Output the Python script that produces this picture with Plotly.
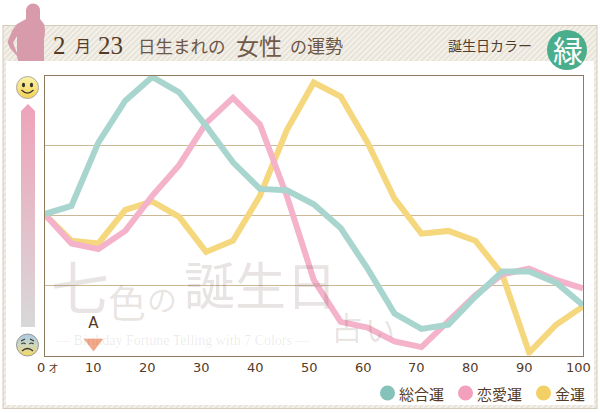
import base64
import plotly.graph_objects as go

# data
ages = list(range(0, 101, 5))
sougou = [50.5, 53.4, 76, 91, 99.5, 94, 82, 69, 59.5, 59, 54, 45.5, 31, 15, 9.5, 11, 21, 30, 30, 26, 18]
renai = [50.5, 40, 38, 44.5, 57, 68, 83, 92, 82.5, 57, 27, 12, 10, 5, 3, 12, 21.5, 29, 31, 27, 24]
kinun = [50.5, 41, 40, 52, 55, 49.5, 37, 41, 57, 80.5, 97.5, 92.5, 76, 56, 43.5, 44.5, 41, 29, 1, 11, 17.5]
tick_ages = list(range(0, 101, 10))
tick_labels = ["0<span style='font-size:10px'> オ</span>"] + [str(a) for a in tick_ages[1:]]
grid_levels = [25, 50, 75]
marker_age = [9.1]
marker_level = [4.5]
marker_label = ["A"]

W, H = 600, 413
TEXT = "#553a26"
SERIF = "'Liberation Serif','Noto Sans CJK JP',serif"
SANS = "'DejaVu Sans','Noto Sans CJK JP',sans-serif"
CJK = "'Noto Sans CJK JP',sans-serif"

# frame, hatch, gradient arrow, silhouette and faces as a background picture
svg = f'''<svg xmlns="http://www.w3.org/2000/svg" width="{W}" height="{H}" viewBox="0 0 {W} {H}">
<defs>
<pattern id="h" width="4" height="4" patternUnits="userSpaceOnUse" patternTransform="rotate(45)">
<rect width="4" height="4" fill="#f4f1ea"/><rect width="2" height="4" fill="#e8e3d8"/></pattern>
<linearGradient id="g" x1="0" y1="0" x2="0" y2="1">
<stop offset="0" stop-color="#efa3ba"/><stop offset="1" stop-color="#d8d8d8"/></linearGradient>
<linearGradient id="s" x1="0" y1="0" x2="0" y2="1">
<stop offset="0" stop-color="#fbf3a8"/><stop offset="1" stop-color="#f5d255"/></linearGradient>
<linearGradient id="b" x1="0" y1="0" x2="0" y2="1">
<stop offset="0" stop-color="#a9c9e6"/><stop offset="0.5" stop-color="#cfd8c0"/><stop offset="1" stop-color="#f5d860"/></linearGradient>
</defs>
<rect x="3" y="25.5" width="594" height="383" fill="url(#h)" stroke="#d3ccbc"/>
<rect x="6" y="61" width="588" height="344" fill="#fff"/>
<path d="M21 327 V111 L28 104 L35 111 V327 Z" fill="url(#g)"/>
<circle cx="27.5" cy="87.5" r="11" fill="url(#s)" stroke="#aaa"/>
<ellipse cx="23.5" cy="85" rx="1.6" ry="2.2" fill="#333"/><ellipse cx="31.5" cy="85" rx="1.6" ry="2.2" fill="#333"/>
<path d="M21.5 90 Q27.5 96 33.5 90" fill="none" stroke="#333" stroke-width="1.2"/>
<circle cx="27.5" cy="345" r="11" fill="url(#b)" stroke="#999"/>
<path d="M21 341 L25 339 M34 341 L30 339 M21.5 344 Q23.5 342 25.5 344 M29.5 344 Q31.5 342 33.5 344" fill="none" stroke="#333" stroke-width="1.1"/>
<path d="M22 351 Q27.5 346 33 351" fill="none" stroke="#333" stroke-width="1.2"/>
<path fill-rule="evenodd" d="M33 3.5 Q41 4 40 13 L40 19 L44 24 Q46 30 44 40 L44 61 H18 L17 56 L10 48 L7.5 42 L12 31 L17 24 L26 19 L26 10 Q27 4 33 3.5 Z M17 36 L13 43 L17 53 Z" fill="#d79bab"/>
</svg>'''
bg_uri = "data:image/svg+xml;base64," + base64.b64encode(svg.encode()).decode()


def px(x):
    return x / W


def py(y):
    return 1 - y / H


fig = go.Figure()
# drawn back to front: gold, pink, green
fig.add_trace(go.Scatter(x=ages, y=kinun, mode="lines", line=dict(color="#f5d77e", width=6), cliponaxis=False))
fig.add_trace(go.Scatter(x=ages, y=renai, mode="lines", line=dict(color="#f4b3ca", width=6), cliponaxis=False))
fig.add_trace(go.Scatter(x=ages, y=sougou, mode="lines", line=dict(color="#a9d5cf", width=6), cliponaxis=False))
fig.add_trace(go.Scatter(
    x=marker_age, y=marker_level, mode="markers+text", text=marker_label, textposition="top center",
    marker=dict(symbol="triangle-down", size=17, color="#f2a98a"),
    textfont=dict(family=SANS, size=15, color=TEXT), cliponaxis=False,
))

annotations = []


def label(text, x, y, size, color=TEXT, family=CJK, anchor="left"):
    annotations.append(dict(
        text=text, x=px(x), y=py(y), xref="paper", yref="paper", showarrow=False,
        xanchor=anchor, yanchor="middle", xshift=0, borderpad=0, font=dict(family=family, size=size, color=color),
    ))


# title pieces, each has its own size
label("2", 52, 45, 25, "#553a26", SERIF)
label("月", 74, 45, 16, "#553a26")
label("23", 97, 45, 25, "#553a26", SERIF)
label("日生まれの", 137, 45, 17.5, "#6b5647")
label("女性", 235, 45, 23, "#6f5a4a")
label("の", 289, 45, 17, "#6b5647")
label("運勢", 306, 45, 18, "#6b5647")
label("誕生日カラー", 447, 45, 14, "#4f3d30")
label("緑", 568, 49, 30, "#ffffff", CJK, "center")

# watermark
WM = "rgba(110,90,80,0.16)"
label("七", 50, 285, 58, WM)
label("色", 107, 300, 38, WM)
label("の", 146, 298, 30, WM)
label("誕生日", 183, 283, 51, WM)
label("占", 330, 326, 32, WM)
label("い", 364, 328, 30, WM)
label("— Birthday Fortune Telling with 7 Colors —", 54, 340, 14, "rgba(110,90,80,0.13)", SERIF)

# tick labels sit a little left of their real position in the original
for age, txt in zip(tick_ages, tick_labels):
    shift = 3 if age == 0 else -4.5
    annotations.append(dict(
        text=txt, x=age, y=py(367), xref="x", yref="paper", showarrow=False, xshift=shift,
        xanchor="center", yanchor="middle", font=dict(family=SANS, size=13, color=TEXT),
    ))

# legend
label("総合運", 398, 393, 15, TEXT)
label("恋愛運", 476, 393, 15, TEXT)
label("金運", 554, 393, 15, TEXT)

shapes = [
    dict(type="circle", xref="paper", yref="paper", x0=px(547), x1=px(587), y0=py(70), y1=py(30),
         fillcolor="#4aad8c", line_width=0, layer="below"),
]
for cx, col in [(387.5, "#84c2ba"), (465.5, "#f2a0bb"), (543.5, "#f2d065")]:
    shapes.append(dict(type="circle", xref="paper", yref="paper", x0=px(cx - 7.5), x1=px(cx + 7.5),
                       y0=py(400.5), y1=py(385.5), fillcolor=col, line_width=0, layer="below"))

fig.update_layout(
    width=W, height=H, margin=dict(l=0, r=0, t=0, b=0), showlegend=False,
    paper_bgcolor="#ffffff", plot_bgcolor="rgba(0,0,0,0)",
    images=[dict(source=bg_uri, xref="paper", yref="paper", x=0, y=1, sizex=1, sizey=1,
                 sizing="stretch", layer="below", xanchor="left", yanchor="top")],
    annotations=annotations, shapes=shapes,
    xaxis=dict(domain=[px(44.5), px(583)], range=[0, 100], tickvals=tick_ages, showticklabels=False,
               ticks="", showgrid=False, zeroline=False, showline=True, mirror=True,
               linecolor="#8f7a60", linewidth=1),
    yaxis=dict(domain=[py(355.5), py(75.5)], range=[0, 100], tickvals=grid_levels, showticklabels=False,
               ticks="", showgrid=True, gridcolor="#cdb896", gridwidth=1, zeroline=False, showline=True,
               mirror=True, linecolor="#8f7a60", linewidth=1),
)

fig.write_html("out.html", config={"displayModeBar": False},
               post_script="document.body.style.margin='0';document.body.style.overflow='hidden';")
